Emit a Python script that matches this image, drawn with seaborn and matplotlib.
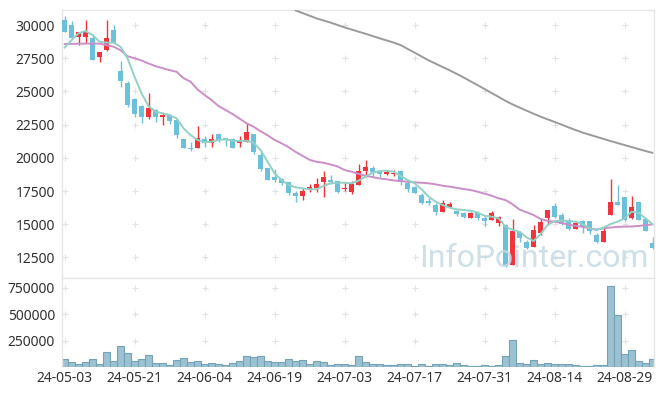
import numpy as np
import pandas as pd
import seaborn as sns
import matplotlib.pyplot as plt

# trading days (KRX), 2024-05-03 .. 2024-09-04
holidays = ["2024-05-06", "2024-05-15", "2024-06-06", "2024-08-15"]
dates = pd.bdate_range("2024-05-03", "2024-09-04")
dates = dates[~dates.isin(pd.to_datetime(holidays))]

opens = [30376, 30000, 29120, 29120, 29000, 27613, 28120, 29624, 26560, 25655,
         24428, 23900, 23050, 23600, 23050, 23200, 22846, 21416, 20700, 20760,
         21416, 21093, 21792, 21470, 21416, 21093, 21213, 21792, 20211, 19210,
         18555, 18404, 18200, 17380, 17100, 17650, 17710, 18200, 18330, 18253,
         17630, 17390, 17975, 19000, 19255, 19000, 18780, 18780, 19000, 18125,
         17780, 17200, 16770, 16450, 15900, 16320, 15990, 15820, 15500, 15860,
         15490, 15340, 15060, 14940, 11928, 14435, 13685, 13250, 14360, 15440,
         16370, 15690, 15315, 14615, 15240, 15240, 14190, 13685, 15690, 16700,
         17070, 15440, 16700, 15364, 13610]
highs = [30678, 30300, 29500, 30376, 29300, 28000, 30380, 30000, 27290, 25783,
         24526, 23950, 24857, 23675, 23397, 23300, 22900, 21450, 21200, 22395,
         21642, 21792, 21792, 21470, 21470, 21642, 22643, 21792, 20460, 19250,
         19134, 18480, 18200, 17530, 17710, 18000, 18450, 19000, 18705, 18253,
         18200, 18250, 19510, 19835, 19400, 19080, 19080, 19080, 19000, 18270,
         17870, 17380, 16950, 16574, 16820, 16700, 16070, 15935, 15900, 15990,
         15600, 15990, 15600, 15015, 15364, 14510, 13810, 14940, 15364, 16070,
         16620, 15820, 15500, 15240, 15315, 15260, 14310, 14865, 18380, 17950,
         17070, 17120, 16700, 15440, 14010]
lows = [29450, 28920, 28520, 28650, 27350, 27237, 28060, 28650, 25309, 23800,
        23095, 22600, 22922, 22720, 22470, 22545, 21468, 20716, 20500, 20760,
        20840, 20790, 21210, 20910, 20760, 20790, 21213, 20286, 19030, 18329,
        18201, 17952, 17200, 16695, 16820, 17450, 17450, 17025, 18030, 17330,
        17480, 17300, 17975, 18530, 18630, 18580, 18700, 18630, 17950, 17450,
        17330, 16500, 16450, 15700, 15900, 16200, 15650, 15440, 15500, 15310,
        14865, 15340, 14865, 11750, 11928, 13685, 13110, 13250, 14190, 14940,
        15440, 14940, 14550, 14615, 14310, 14260, 13560, 13685, 15690, 16450,
        15260, 15360, 15315, 14510, 13110]
closes = [29496, 29000, 29450, 29450, 27400, 27944, 29000, 28670, 25806, 23976,
          23300, 23095, 23727, 23095, 23200, 22800, 21717, 20716, 20650, 21513,
          21093, 21416, 21340, 21320, 20760, 21265, 21920, 20460, 19134, 18329,
          18329, 18125, 17327, 17150, 17530, 17830, 18030, 18580, 18200, 17450,
          17730, 18060, 19000, 19330, 18955, 18780, 18930, 18830, 18200, 17630,
          17380, 16574, 16574, 15900, 16620, 16520, 15740, 15570, 15820, 15440,
          15240, 15840, 15510, 11850, 14510, 13935, 13183, 14560, 15190, 16070,
          15515, 14990, 14615, 15115, 14810, 14490, 13685, 14510, 16700, 16450,
          15315, 16270, 15315, 14510, 13183]
volumes = [75700, 47300, 28400, 47300, 75700, 28400, 141900, 56800, 198600, 132400,
           56800, 75700, 113500, 37800, 37800, 18900, 66200, 85100, 47300, 56800,
           28400, 37800, 28400, 18900, 37800, 56800, 104000, 94600, 104000, 56800,
           47300, 47300, 75700, 56800, 66200, 28400, 56800, 47300, 18900, 28400,
           28400, 18900, 104000, 47300, 28400, 28400, 18900, 18900, 28400, 28400,
           9500, 28400, 9500, 28400, 28400, 18900, 37800, 18900, 9500, 9500,
           18900, 9500, 18900, 104000, 255400, 37800, 28400, 66200, 28400, 37800,
           28400, 28400, 28400, 18900, 9500, 9500, 18900, 18900, 766200, 491900,
           123000, 160800, 56800, 37800, 75700]

# moving averages as drawn (they include days before the visible window)
ma5 = [28290, 28870, 29375, 29550, 29250, 28745, 28670, 28670, 28366, 27490,
       26107, 24857, 23900, 23470, 23350, 23220, 22970, 22220, 21720, 21340,
       21180, 21215, 21340, 21390, 21290, 21265, 21290, 21140, 20590, 19710,
       18830, 18330, 17950, 17780, 17700, 17630, 17630, 17880, 18080, 18125,
       18125, 18080, 18275, 18580, 18880, 19005, 19030, 18955, 18630, 18330,
       18080, 17630, 17070, 16700, 16445, 16245, 16120, 16070, 16020, 15865,
       15640, 15565, 15450, 14820, 14565, 14440, 14010, 13735, 14260, 14940,
       15240, 15265, 15240, 15190, 15015, 14690, 14565, 14740, 15015, 15190,
       15440, 15940, 15865, 15440, 14990]
ma20 = [28570, 28580, 28590, 28600, 28600, 28600, 28480, 28370, 28100, 27650,
        27500, 27330, 27100, 26900, 26750, 26600, 26480, 26000, 25730, 25150,
        24730, 24352, 23900, 23600, 23300, 22950, 22600, 22343, 22000, 21700,
        21350, 21090, 20800, 20450, 20150, 19850, 19700, 19630, 19500, 19350,
        19080, 18950, 18790, 18650, 18550, 18450, 18380, 18300, 18250, 18200,
        18155, 18120, 18080, 18000, 17900, 17830, 17740, 17650, 17575, 17450,
        17300, 17150, 16950, 16820, 16500, 16100, 15900, 15690, 15400, 15250,
        15190, 15100, 14960, 14880, 14800, 14700, 14600, 14700, 14750, 14800,
        14820, 14830, 14870, 14930, 14990]
ma60 = [np.nan] * 33 + [
        31100, 30900, 30700, 30500, 30340, 30180, 30000, 29820, 29660, 29500,
        29340, 29170, 29000, 28840, 28680, 28490, 28200, 27920, 27630, 27340,
        27090, 26840, 26590, 26330, 26050, 25760, 25470, 25180, 24880, 24590,
        24290, 24020, 23780, 23550, 23320, 23100, 22900, 22700, 22500, 22290,
        22090, 21900, 21740, 21580, 21420, 21260, 21110, 20960, 20810, 20660,
        20510, 20370]

price_ticks = [12500, 15000, 17500, 20000, 22500, 25000, 27500, 30000]
volume_ticks = [250000, 500000, 750000]

RED = "#f0343c"
BLUE = "#6cc0d9"
GRID = "#e2e2e2"
SPINE = "#e6e6e6"

df = pd.DataFrame({"x": np.arange(len(dates)), "open": opens, "high": highs,
                   "low": lows, "close": closes, "volume": volumes,
                   "ma5": ma5, "ma20": ma20, "ma60": ma60})
colors = np.where(df["close"] >= df["open"], RED, BLUE)

sns.set_theme(style="white")
plt.rcParams["font.family"] = ["Noto Sans", "DejaVu Sans"]

fig = plt.figure(figsize=(6.65, 3.96), dpi=100)
ax = fig.add_axes([62 / 665, 1 - 278 / 396, 592 / 665, 268 / 396])
axv = fig.add_axes([62 / 665, 1 - 367 / 396, 592 / 665, 89 / 396])

xticks = df["x"][::10]

# grid drawn as little crosses
for a, yt in ((ax, price_ticks), (axv, volume_ticks)):
    gx, gy = np.meshgrid(xticks, yt)
    a.scatter(gx.ravel(), gy.ravel(), marker="+", s=16, color=GRID, lw=0.8, zorder=0)

# candles
ax.vlines(df["x"], df["low"], df["high"], color=colors, lw=1, zorder=2)
body = np.maximum((df["close"] - df["open"]).abs(), 70)
ax.bar(df["x"], body, bottom=np.minimum(df["open"], df["close"]),
       width=0.72, color=colors, lw=0, zorder=3)

sns.lineplot(data=df, x="x", y="ma60", ax=ax, color="#9a9a9a", lw=1.4, zorder=4)
sns.lineplot(data=df, x="x", y="ma20", ax=ax, color="#cc8ec9", lw=1.4, zorder=4)
sns.lineplot(data=df, x="x", y="ma5", ax=ax, color="#93d1c6", lw=1.4, zorder=4)

ax.text(0.99, 0.04, "InfoPointer.com", transform=ax.transAxes, ha="right",
        va="baseline", fontsize=23, family=["Roboto", "DejaVu Sans"],
        color="#c6dae5", alpha=0.85, zorder=5)

# volume
sns.barplot(data=df, x="x", y="volume", ax=axv, native_scale=True, width=0.9,
            color="#9cc2d2", edgecolor="#74a2b8", linewidth=0.8, saturation=1)

for a in (ax, axv):
    a.set_xlim(-0.36, 84.2)
    a.set_xlabel("")
    a.set_ylabel("")
    a.tick_params(length=0, labelsize=10, labelcolor="#333333", pad=5)
    for s in a.spines.values():
        s.set_color(SPINE)
        s.set_linewidth(1)

ax.set_ylim(10950, 31130)
ax.set_yticks(price_ticks)
ax.set_xticks(xticks)
ax.tick_params(labelbottom=False)

axv.set_ylim(0, 843000)
axv.set_yticks(volume_ticks)
axv.set_xticks(xticks)
axv.set_xticklabels(dates[::10].strftime("%y-%m-%d"))
axv.tick_params(axis="x", pad=3)
axv.spines["bottom"].set_visible(False)

fig.savefig("out.png", dpi=100)
